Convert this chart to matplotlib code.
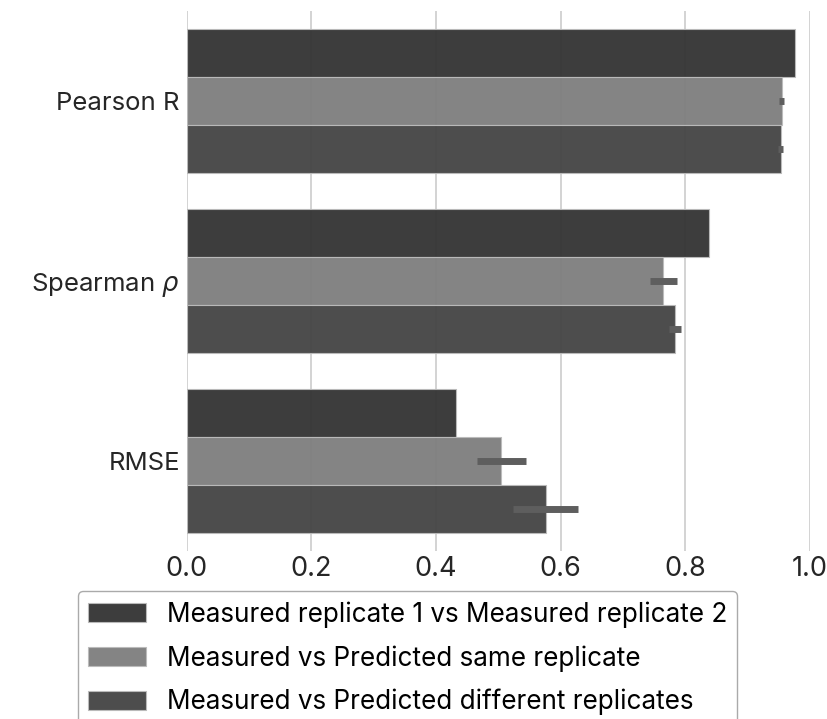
import numpy as np
import matplotlib
matplotlib.use("Agg")
import matplotlib.pyplot as plt

plt.rcParams['font.family'] = ['Inter', 'DejaVu Sans']

# Metrikler ve seriler
metrics = ["Pearson R", "Spearman $\\rho$", "RMSE"]
series = [
    "Measured replicate 1 vs Measured replicate 2",
    "Measured vs Predicted same replicate",
    "Measured vs Predicted different replicates",
]
rep_vs_rep = [0.976, 0.838, 0.432]
pred_same = [0.955, 0.765, 0.505]
pred_diff = [0.954, 0.784, 0.576]
err_same = [0.004, 0.022, 0.039]
err_diff = [0.004, 0.010, 0.052]

colors = ["#363636", "#808080", "#474747"]

fig = plt.figure(figsize=(8.27, 7.19), dpi=100)
ax = fig.add_axes([0.226, 0.234, 0.753, 0.751])

y = np.arange(len(metrics))
h = 0.8 / 3
values = [rep_vs_rep, pred_same, pred_diff]
errors = [None, err_same, err_diff]

for i, (vals, errs) in enumerate(zip(values, errors)):
    pos = y - 0.8 / 2 + h / 2 + i * h
    ax.barh(pos, vals, height=h, color=colors[i], edgecolor="#bbbbbb",
            linewidth=0.8, label=series[i], zorder=2, alpha=0.97)
    if errs is not None:
        ax.errorbar(vals, pos, xerr=errs, fmt="none", ecolor="#5e5e5e",
                    elinewidth=5, capsize=0, zorder=3)

ax.set_ylim(2.5, -0.5)
ax.set_xlim(0, 1.0)
ax.set_yticks(y)
ax.set_yticklabels(metrics)
ax.set_xticks([0.0, 0.2, 0.4, 0.6, 0.8, 1.0])
ax.tick_params(axis="y", labelsize=18.5, length=0, colors="#262626", pad=5)
ax.tick_params(axis="x", labelsize=19.5, length=0, colors="#262626", pad=4)
ax.grid(axis="x", color="#cccccc", linewidth=1.2, zorder=0)
ax.set_axisbelow(True)
for s in ax.spines.values():
    s.set_visible(False)

fig.legend(loc="upper left", bbox_to_anchor=(0.094, 0.178), fontsize=18.8,
           frameon=True, edgecolor="#aaaaaa", handlelength=2.2,
           handleheight=0.75, handletextpad=0.8, labelspacing=0.66,
           borderpad=0.4, borderaxespad=0, framealpha=1, fancybox=True)

fig.savefig("out.png", dpi=100)
